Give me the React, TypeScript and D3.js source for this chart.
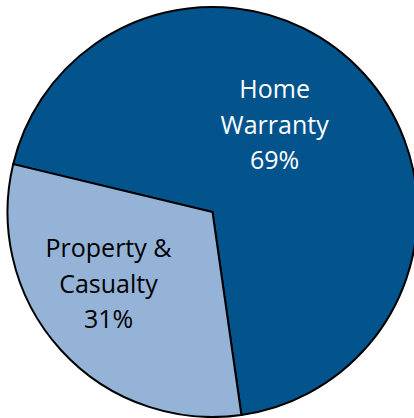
import * as d3 from "d3";
import React, { useEffect, useRef } from "react";

// data
const categories = ["Home Warranty", "Property & Casualty"];
const values = [69, 31];
const labelLines = [["Home", "Warranty", "69%"], ["Property &", "Casualty", "31%"]];
const colors = ["#03538C", "#95B3D7"];
const textColors = ["#ffffff", "#000000"];

const w = 414;
const h = 418;

export default function App() {
  const svgRef = useRef<SVGSVGElement | null>(null);

  useEffect(() => {
    const cx = 212.5;
    const cy = 212;
    const radius = 205;

    const data = categories.map((c, i) => ({ name: c, value: values[i], lines: labelLines[i] }));

    const pie = d3
      .pie<any>()
      .sort(null)
      .value((d) => d.value)
      .startAngle((-76.5 * Math.PI) / 180)
      .endAngle((283.5 * Math.PI) / 180);

    const arc = d3.arc<any>().innerRadius(0).outerRadius(radius);

    const svgEl = d3.select(svgRef.current);
    svgEl.selectAll("*").remove();
    const g = svgEl.append("g").attr("transform", `translate(${cx},${cy})`);

    const arcs = pie(data);

    g.selectAll("path")
      .data(arcs)
      .enter()
      .append("path")
      .attr("d", arc)
      .attr("fill", (d, i) => colors[i])
      .attr("stroke", "#000")
      .attr("stroke-width", 2)
      .attr("stroke-linejoin", "miter");

    // label anchors: shift from the slice middle toward where the original put them
    const labelAngleShift = [-12.2, 7.6];
    const labelRadius = [107, 126.5];
    const lineHeight = 35.5;

    arcs.forEach((a, i) => {
      const mid = (a.startAngle + a.endAngle) / 2 + (labelAngleShift[i] * Math.PI) / 180;
      const [lx, ly] = d3.pointRadial(mid, labelRadius[i]);
      const lines = a.data.lines;
      const text = g
        .append("text")
        .attr("text-anchor", "middle")
        .attr("font-family", "'Open Sans', 'Noto Sans', sans-serif")
        .attr("font-size", 25)
        .attr("fill", textColors[i]);
      lines.forEach((ln: string, j: number) => {
        text
          .append("tspan")
          .attr("x", lx)
          .attr("y", ly + (j - (lines.length - 1) / 2) * lineHeight)
          .attr("dy", "0.35em")
          .text(ln);
      });
    });
  }, []);

  return (
    <svg
      ref={svgRef}
      width={w}
      height={h}
      style={{ position: "absolute", left: 0, top: 0, display: "block", background: "#fff" }}
    />
  );
}
